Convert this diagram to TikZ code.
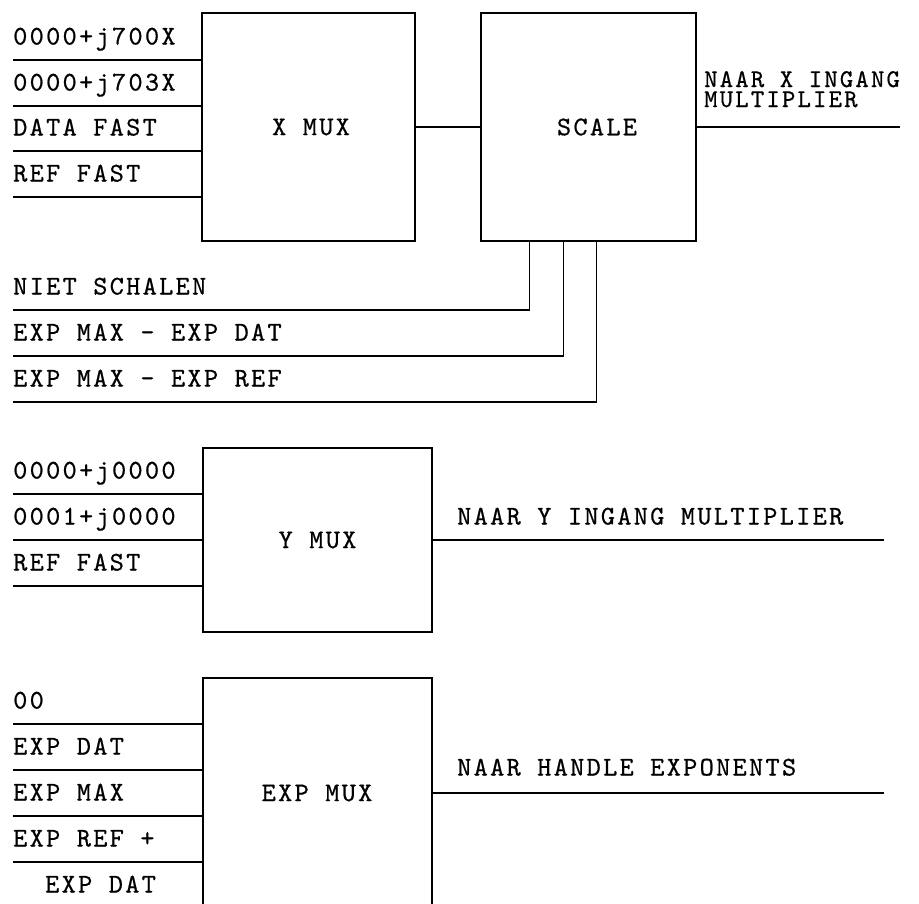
\documentclass[tikz,border=0pt]{standalone}
\usepackage{fontspec}
\newfontfamily\lbl[LetterSpace=8.5,FakeBold=0.6]{lmmono10-regular.otf}
\begin{document}
\begin{tikzpicture}[x=1pt,y=-1pt,
  wire/.style={line width=1.5pt,black},
  mbox/.style={draw,line width=1.5pt,minimum width=#1,inner sep=0pt},
  txt/.style={anchor=base west,inner sep=0pt,font=\lbl\fontsize{27pt}{30pt}\selectfont},
  stxt/.style={anchor=base west,inner sep=0pt,text height=14pt,text depth=0pt,font=\lbl\fontsize{25.5pt}{27pt}\selectfont},
  ctxt/.style={font=\lbl\fontsize{27pt}{30pt}\selectfont}]
\useasboundingbox (0,0) rectangle (919,903);
\clip (0,0) rectangle (919,903);
% boxes
\node[mbox=213pt,minimum height=228pt] (xmux) at (308.5,127) {};
\node[mbox=215pt,minimum height=228pt] (scale) at (588.5,127) {};
\node[mbox=229pt,minimum height=184pt] (ymux) at (317.5,540) {};
\node[mbox=229pt,minimum height=230pt] (expmux) at (317.5,793) {};
\node[ctxt] (xmuxt) at (311,127) {X MUX};
\node[ctxt] (scalet) at (597,127) {SCALE};
\node[ctxt] (ymuxt) at (317.5,540) {Y MUX};
\node[ctxt] (expmuxt) at (317,793) {EXP MUX};
% X MUX inputs
\foreach \y/\t [count=\i] in {60/{0000+j700X},106/{0000+j703X},151/{DATA FAST},197/{REF FAST}}{
  \coordinate (xi\i) at (13,\y);
  \draw[wire] (xi\i) -- (xi\i -| xmux.west);
  \node[txt] (xl\i) at (13,\y-15.5) {\t};
}
\draw[wire] (xmux.east) -- (scale.west);
\coordinate (xout) at (900,127);
\draw[wire] (scale.east) -- (xout);
\node[stxt] (xo1) at (704,87) {NAAR X INGANG};
\node[stxt] (xo2) at (704,107) {MULTIPLIER};
% scale control inputs
\coordinate (s1) at (13,310);
\coordinate (s2) at (13,356);
\coordinate (s3) at (13,402);
\draw[wire] ([xshift=49pt]scale.south west) |- (s1);
\draw[wire] ([xshift=83pt]scale.south west) |- (s2);
\draw[wire] ([xshift=116pt]scale.south west) |- (s3);
\node[txt] (sl1) at (13,294.5) {NIET SCHALEN};
\node[txt] (sl2) at (13,340.5) {EXP MAX - EXP DAT};
\node[txt] (sl3) at (13,386.5) {EXP MAX - EXP REF};
% Y MUX
\foreach \y/\t [count=\i] in {494/{0000+j0000},540/{0001+j0000},586/{REF FAST}}{
  \coordinate (yi\i) at (13,\y);
  \draw[wire] (yi\i) -- (yi\i -| ymux.west);
  \node[txt] (yl\i) at (13,\y-15.5) {\t};
}
\coordinate (yout) at (884,540);
\draw[wire] (ymux.east) -- (yout);
\node[txt] (yo) at (457,524.5) {NAAR Y INGANG MULTIPLIER};
% EXP MUX
\foreach \y/\t [count=\i] in {724/{00},770/{EXP DAT},816/{EXP MAX},862/{EXP REF +}}{
  \coordinate (ei\i) at (13,\y);
  \draw[wire] (ei\i) -- (ei\i -| expmux.west);
  \node[txt] (el\i) at (13,\y-15.5) {\t};
}
\node[txt] (el5) at (45,892.5) {EXP DAT};
\coordinate (eout) at (884,793);
\draw[wire] (expmux.east) -- (eout);
\node[txt] (eo) at (457,775.5) {NAAR HANDLE EXPONENTS};
\end{tikzpicture}
\end{document}
